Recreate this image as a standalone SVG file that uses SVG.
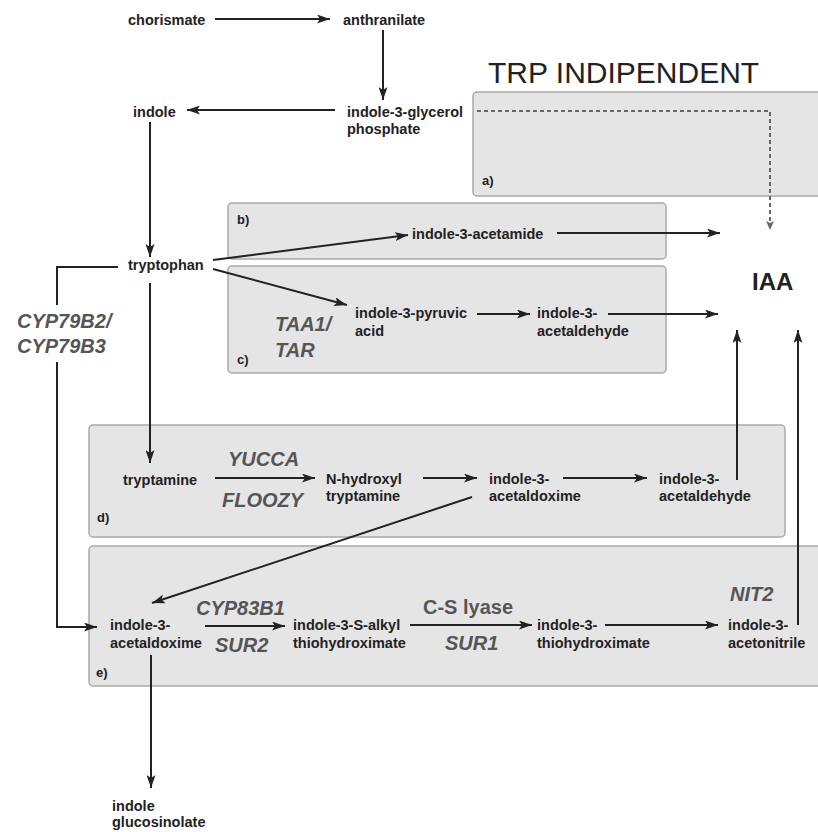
<svg xmlns="http://www.w3.org/2000/svg" width="818" height="832" viewBox="0 0 818 832">
<defs>
<style>
.box{fill:#e5e5e5;stroke:#a9a9a9;stroke-width:1.5}
.t{font-family:"Liberation Sans",Arial,sans-serif;font-weight:bold;font-size:14.5px;fill:#222}
.lab{font-family:"Liberation Sans",Arial,sans-serif;font-weight:bold;font-size:13px;fill:#222}
.enz{font-family:"Liberation Sans",Arial,sans-serif;font-weight:bold;font-style:italic;font-size:20px;fill:#555}
.enzn{font-family:"Liberation Sans",Arial,sans-serif;font-weight:bold;font-size:20px;fill:#555}
.ln{stroke:#222;stroke-width:2;fill:none}
.dash{stroke:#666;stroke-width:2;fill:none;stroke-dasharray:4 3}
</style>
<marker id="ah" markerUnits="userSpaceOnUse" markerWidth="14" markerHeight="9" refX="13" refY="4.5" orient="auto">
<path d="M0,0 L13,4.5 L0,9 L3,4.5 z" fill="#222"/>
</marker>
<marker id="ahd" markerUnits="userSpaceOnUse" markerWidth="10" markerHeight="8" refX="9" refY="4" orient="auto">
<path d="M0,0 L9,4 L0,8 L2,4 z" fill="#666"/>
</marker>
</defs>
<rect width="818" height="832" fill="#fff"/>

<g id="box-a"><rect class="box" x="473" y="92" width="360" height="104" rx="4"/><text class="lab" x="482" y="185">a)</text></g>
<g id="box-b"><rect class="box" x="228" y="203" width="438" height="56" rx="4"/><text class="lab" x="237" y="224">b)</text></g>
<g id="box-c"><rect class="box" x="228" y="266" width="438" height="107" rx="4"/><text class="lab" x="237" y="364">c)</text></g>
<g id="box-d"><rect class="box" x="89" y="425" width="696" height="112" rx="4"/><text class="lab" x="97" y="522">d)</text></g>
<g id="box-e"><rect class="box" x="89" y="546" width="745" height="140" rx="4"/><text class="lab" x="96" y="677">e)</text></g>

<g id="title"><text x="488" y="83" font-family="'Liberation Sans',Arial,sans-serif" font-size="30" fill="#222">TRP INDIPENDENT</text></g>

<g id="connectors">
<path class="ln" d="M215,19 H330" marker-end="url(#ah)"/>
<path class="ln" d="M383,30 V100" marker-end="url(#ah)"/>
<path class="ln" d="M335,110 H187" marker-end="url(#ah)"/>
<path class="ln" d="M150,122 V257" marker-end="url(#ah)"/>
<path class="ln" d="M213,260 L408,235" marker-end="url(#ah)"/>
<path class="ln" d="M213,269 L347,305" marker-end="url(#ah)"/>
<path class="ln" d="M557,233 H720" marker-end="url(#ah)"/>
<path class="ln" d="M477,314 H530" marker-end="url(#ah)"/>
<path class="ln" d="M608,314 H718" marker-end="url(#ah)"/>
<path class="dash" d="M477,111 H770 V230" marker-end="url(#ahd)"/>
<path class="ln" d="M150,283 V463" marker-end="url(#ah)"/>
<path class="ln" d="M118,267 H57 V305"/>
<path class="ln" d="M57,362 V627 H97" marker-end="url(#ah)"/>
<path class="ln" d="M215,478 H315" marker-end="url(#ah)"/>
<path class="ln" d="M423,478 H477" marker-end="url(#ah)"/>
<path class="ln" d="M563,478 H647" marker-end="url(#ah)"/>
<path class="ln" d="M737,480 V330" marker-end="url(#ah)"/>
<path class="ln" d="M472,497 L152,603" marker-end="url(#ah)"/>
<path class="ln" d="M205,626 H285" marker-end="url(#ah)"/>
<path class="ln" d="M410,625 H532" marker-end="url(#ah)"/>
<path class="ln" d="M605,625 H718" marker-end="url(#ah)"/>
<path class="ln" d="M798,625 V330" marker-end="url(#ah)"/>
<path class="ln" d="M151,655 V788" marker-end="url(#ah)"/>
</g>

<g id="chorismate"><text class="t" x="128" y="25">chorismate</text></g>
<g id="anthranilate"><text class="t" x="343" y="25">anthranilate</text></g>
<g id="indole"><text class="t" x="133" y="117">indole</text></g>
<g id="igp"><text class="t" x="347" y="117">indole-3-glycerol</text><text class="t" x="347" y="134">phosphate</text></g>
<g id="tryptophan"><text class="t" x="128" y="270">tryptophan</text></g>
<g id="acetamide"><text class="t" x="412" y="239">indole-3-acetamide</text></g>
<g id="iaa"><text x="752" y="290" font-family="'Liberation Sans',Arial,sans-serif" font-weight="bold" font-size="24" fill="#222">IAA</text></g>
<g id="pyruvic"><text class="t" x="355" y="318">indole-3-pyruvic</text><text class="t" x="355" y="336">acid</text></g>
<g id="acetaldehyde-c"><text class="t" x="537" y="318">indole-3-</text><text class="t" x="537" y="336">acetaldehyde</text></g>
<g id="taa1"><text class="enz" x="275" y="331">TAA1/</text><text class="enz" x="275" y="357">TAR</text></g>
<g id="cyp79"><text class="enz" x="17" y="328">CYP79B2/</text><text class="enz" x="17" y="353">CYP79B3</text></g>
<g id="tryptamine"><text class="t" x="123" y="485">tryptamine</text></g>
<g id="yucca"><text class="enz" x="228" y="466">YUCCA</text><text class="enz" x="222" y="507">FLOOZY</text></g>
<g id="nhydroxyl"><text class="t" x="326" y="484">N-hydroxyl</text><text class="t" x="326" y="501">tryptamine</text></g>
<g id="acetaldoxime-d"><text class="t" x="489" y="484">indole-3-</text><text class="t" x="489" y="501">acetaldoxime</text></g>
<g id="acetaldehyde-d"><text class="t" x="659" y="484">indole-3-</text><text class="t" x="659" y="501">acetaldehyde</text></g>
<g id="acetaldoxime-e"><text class="t" x="110" y="630">indole-3-</text><text class="t" x="110" y="648">acetaldoxime</text></g>
<g id="cyp83b1"><text class="enz" x="196" y="615">CYP83B1</text><text class="enz" x="215" y="652">SUR2</text></g>
<g id="salkyl"><text class="t" x="293" y="630">indole-3-S-alkyl</text><text class="t" x="293" y="648">thiohydroximate</text></g>
<g id="cslyase"><text class="enzn" x="423" y="614">C-S lyase</text><text class="enz" x="445" y="650">SUR1</text></g>
<g id="thiohydroximate"><text class="t" x="537" y="630">indole-3-</text><text class="t" x="537" y="648">thiohydroximate</text></g>
<g id="nit2"><text class="enz" x="730" y="601">NIT2</text></g>
<g id="acetonitrile"><text class="t" x="728" y="630">indole-3-</text><text class="t" x="728" y="648">acetonitrile</text></g>
<g id="glucosinolate"><text class="t" x="112" y="811">indole</text><text class="t" x="112" y="827">glucosinolate</text></g>
</svg>
